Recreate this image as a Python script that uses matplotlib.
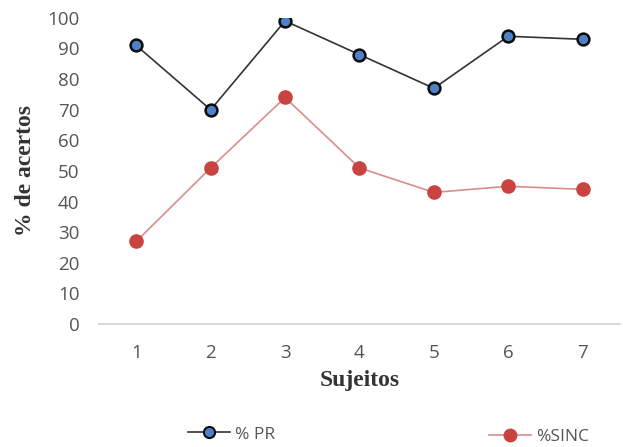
import matplotlib
matplotlib.use("Agg")
import matplotlib.pyplot as plt
from matplotlib.lines import Line2D

subjects = ["1", "2", "3", "4", "5", "6", "7"]
pr = [91, 70, 99, 88, 77, 94, 93]
sinc = [27, 51, 74, 51, 43, 45, 44]
yticks = [0, 10, 20, 30, 40, 50, 60, 70, 80, 90, 100]

fig = plt.figure(figsize=(6.23, 4.47), dpi=100)
ax = fig.add_axes([0.159, 0.275, 0.836, 0.685])
x = list(range(1, len(subjects) + 1))

ax.plot(x, pr, color="#333333", lw=1.2, marker="o", markersize=8.5,
        markerfacecolor="#4F81C8", markeredgecolor="#0b0b0b", markeredgewidth=1.8, zorder=3)
ax.plot(x, sinc, color="#D98C8A", lw=1.2, marker="o", markersize=9.5,
        markerfacecolor="#C94440", markeredgecolor="#C94440", zorder=3)

ax.set_xlim(0.5, 7.5)
ax.set_ylim(0, 100)
ax.set_xticks(x)
ax.set_xticklabels(subjects)
ax.set_yticks(yticks)
for s in ["top", "right", "left"]:
    ax.spines[s].set_visible(False)
ax.spines["bottom"].set_color("#d0d0d0")
ax.spines["bottom"].set_linewidth(1.2)
ax.tick_params(axis="both", length=0, labelsize=13.5, labelcolor="#555555",
               labelfontfamily="Open Sans")
ax.tick_params(axis="x", pad=14)
ax.tick_params(axis="y", pad=14)

ax.set_xlabel("Sujeitos", fontfamily="Liberation Serif", fontweight="bold",
              fontsize=17, color="#333333", labelpad=6)
ax.set_ylabel("% de acertos", fontfamily="Liberation Serif", fontweight="bold",
              fontsize=17, color="#333333", labelpad=8)

h1 = Line2D([], [], color="#333333", lw=1.2, marker="o", markersize=8,
            markerfacecolor="#4F81C8", markeredgecolor="#0b0b0b", markeredgewidth=1.5)
h2 = Line2D([], [], color="#D98C8A", lw=1.2, marker="o", markersize=9,
            markerfacecolor="#C94440", markeredgecolor="#C94440")
leg1 = fig.legend([h1], ["% PR"], loc="center", bbox_to_anchor=(0.372, 0.028),
                  frameon=False, prop={"family": "Open Sans", "size": 12.5},
                  handlelength=2.4, handletextpad=0.3)
for t in leg1.get_texts():
    t.set_color("#555555")
leg2 = fig.legend([h2], ["%SINC"], loc="center", bbox_to_anchor=(0.865, 0.022),
                  frameon=False, prop={"family": "Open Sans", "size": 12.5},
                  handlelength=2.4, handletextpad=0.3)
for t in leg2.get_texts():
    t.set_color("#555555")

fig.savefig("out.png", dpi=100, facecolor="white")
